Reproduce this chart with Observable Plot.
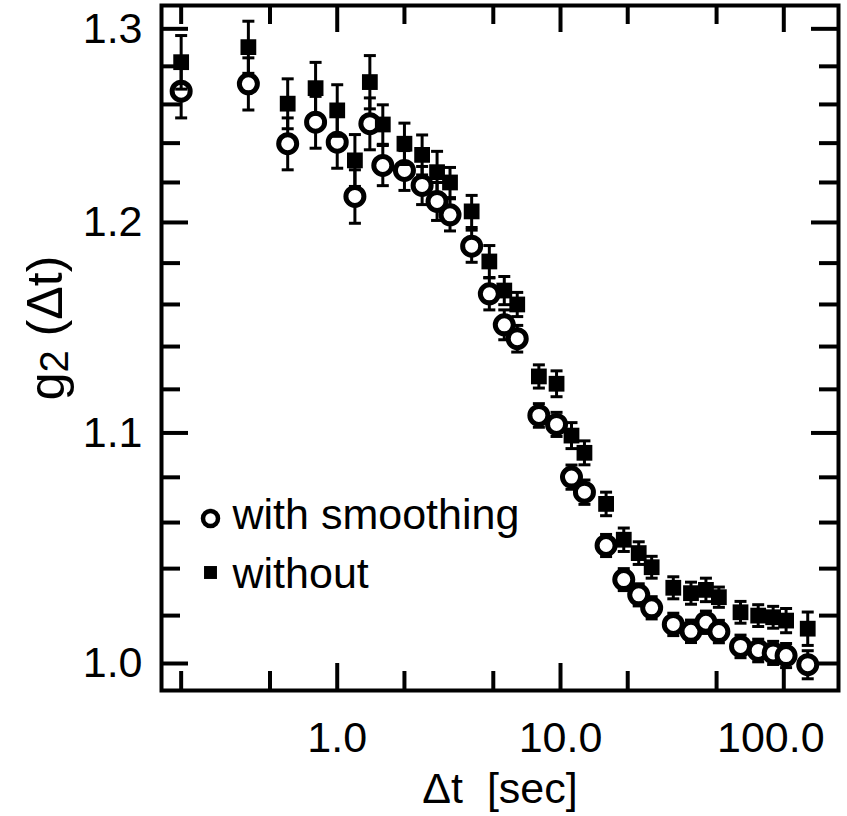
<!DOCTYPE html>
<html>
<head>
<meta charset="utf-8">
<script src="https://cdn.jsdelivr.net/npm/d3@7"></script>
<script src="https://cdn.jsdelivr.net/npm/@observablehq/plot@0.6"></script>
<style>
  body { margin: 0; background: #fff; }
  #chart { width: 847px; height: 816px; }
</style>
</head>
<body>
<div id="chart"></div>
<script>
// Lag times of the multi-tau correlator (seconds)
const lags = [0.2, 0.4, 0.6, 0.8, 1.0, 1.2, 1.4, 1.6, 2.0, 2.4, 2.8, 3.2, 4.0, 4.8, 5.6, 6.4,
  8.0, 9.6, 11.2, 12.8, 16, 19.2, 22.4, 25.6, 32, 38.4, 44.8, 51.2, 64, 76.8, 89.6, 102.4, 128];

// g2(Δt) with smoothing (open circles) and its error
const withSmoothing = [1.2669, 1.2708, 1.2397, 1.2508, 1.2405, 1.2130, 1.2500, 1.2286, 1.2261, 1.2185,
  1.2105, 1.2038, 1.1883, 1.1651, 1.1503, 1.1437, 1.1080, 1.1039, 1.0801, 1.0734, 1.0500, 1.0353,
  1.0288, 1.0233, 1.0163, 1.0134, 1.0172, 1.0133, 1.0071, 1.0054, 1.0044, 1.0033, 0.9995];
const withSmoothingErr = [0.0139, 0.0137, 0.0133, 0.0134, 0.0133, 0.0134, 0.0134, 0.0102, 0.0101, 0.0096,
  0.0095, 0.0080, 0.0079, 0.0077, 0.0071, 0.0063, 0.0054, 0.0055, 0.0054, 0.0054, 0.0048, 0.0047,
  0.0047, 0.0047, 0.0047, 0.0047, 0.0047, 0.0047, 0.0047, 0.0047, 0.0048, 0.0050, 0.0058];

// g2(Δt) without smoothing (filled squares) and its error
const without = [1.2822, 1.2902, 1.2604, 1.2685, 1.2569, 1.2312, 1.2717, 1.2496, 1.2397, 1.2340,
  1.2252, 1.2200, 1.2055, 1.1808, 1.1667, 1.1600, 1.1260, 1.1226, 1.0988, 1.0910, 1.0682, 1.0525,
  1.0467, 1.0406, 1.0318, 1.0295, 1.0309, 1.0278, 1.0214, 1.0200, 1.0193, 1.0179, 1.0145];
const withoutErr = [0.0142, 0.0139, 0.0130, 0.0136, 0.0134, 0.0132, 0.0140, 0.0102, 0.0106, 0.0102,
  0.0106, 0.0076, 0.0080, 0.0078, 0.0068, 0.0058, 0.0054, 0.0060, 0.0059, 0.0054, 0.0052, 0.0051,
  0.0049, 0.0047, 0.0047, 0.0047, 0.0050, 0.0043, 0.0046, 0.0046, 0.0046, 0.0051, 0.0070];

// Axis ticks and labels
const xMajorTicks = [1, 10, 100];
const xTickLabels = ["1.0", "10.0", "100.0"];
const xMinorTicks = [0.2, 0.5, 2, 5, 20, 50];
const yMajorTicks = [1.0, 1.1, 1.2, 1.3];
const yTickLabels = ["1.0", "1.1", "1.2", "1.3"];
const yMinorTicks = [1.02, 1.04, 1.06, 1.08, 1.12, 1.14, 1.16, 1.18, 1.22, 1.24, 1.26, 1.28];

const xTitle = "Δt\u00a0\u00a0[sec]";
const yTitle = "g2 (Δt)";
const legendLabels = ["with smoothing", "without"];

// Horizontal bar used for the error-bar caps
const capSymbol = {
  draw(context, size) {
    const w = Math.sqrt(size / Math.PI);
    context.moveTo(-w, 0);
    context.lineTo(w, 0);
  }
};

const W = 847, H = 816;
const mL = 161, mR = 9, mT = 5, mB = 126;
const innerW = W - mL - mR, innerH = H - mT - mB;
const majorLen = 27, minorLen = 19, tickW = 4;
const fs = 43;
const font = "'Liberation Sans', Arial, Helvetica, sans-serif";

const nLast = xMajorTicks.length - 1;

const chart = Plot.plot({
  width: W,
  height: H,
  marginLeft: mL,
  marginRight: mR,
  marginTop: mT,
  marginBottom: mB,
  style: { fontFamily: font, background: "white", color: "black", overflow: "visible" },
  x: { type: "log", domain: [0.1633, 175.8], axis: null },
  y: { type: "log", domain: [0.9889, 1.3126], axis: null },
  marks: [
    // inward ticks on all four sides
    Plot.tickX(xMajorTicks, { x: d => d, insetTop: innerH - majorLen, strokeWidth: tickW }),
    Plot.tickX(xMinorTicks, { x: d => d, insetTop: innerH - minorLen, strokeWidth: tickW }),
    Plot.tickX(xMajorTicks, { x: d => d, insetBottom: innerH - majorLen, strokeWidth: tickW }),
    Plot.tickX(xMinorTicks, { x: d => d, insetBottom: innerH - minorLen, strokeWidth: tickW }),
    Plot.tickY(yMajorTicks, { y: d => d, insetRight: innerW - majorLen, strokeWidth: tickW }),
    Plot.tickY(yMinorTicks, { y: d => d, insetRight: innerW - minorLen, strokeWidth: tickW }),
    Plot.tickY(yMajorTicks, { y: d => d, insetLeft: innerW - majorLen, strokeWidth: tickW }),
    Plot.tickY(yMinorTicks, { y: d => d, insetLeft: innerW - minorLen, strokeWidth: tickW }),

    // with smoothing: error bars then open circles
    Plot.ruleX(lags, { x: d => d, y1: (d, i) => withSmoothing[i] - withSmoothingErr[i], y2: (d, i) => withSmoothing[i] + withSmoothingErr[i], strokeWidth: 3 }),
    Plot.dot(lags, { x: d => d, y: (d, i) => withSmoothing[i] - withSmoothingErr[i], symbol: capSymbol, r: 6, stroke: "black", strokeWidth: 3 }),
    Plot.dot(lags, { x: d => d, y: (d, i) => withSmoothing[i] + withSmoothingErr[i], symbol: capSymbol, r: 6, stroke: "black", strokeWidth: 3 }),
    Plot.dot(lags, { x: d => d, y: (d, i) => withSmoothing[i], r: 9, fill: "white", stroke: "black", strokeWidth: 5 }),

    // without smoothing: error bars then filled squares
    Plot.ruleX(lags, { x: d => d, y1: (d, i) => without[i] - withoutErr[i], y2: (d, i) => without[i] + withoutErr[i], strokeWidth: 3 }),
    Plot.dot(lags, { x: d => d, y: (d, i) => without[i] - withoutErr[i], symbol: capSymbol, r: 6, stroke: "black", strokeWidth: 3 }),
    Plot.dot(lags, { x: d => d, y: (d, i) => without[i] + withoutErr[i], symbol: capSymbol, r: 6, stroke: "black", strokeWidth: 3 }),
    Plot.dot(lags, { x: d => d, y: (d, i) => without[i], symbol: "square", r: 8.9, fill: "black", stroke: "none" }),

    // tick labels (the last x label sits slightly left of its tick)
    Plot.text(xMajorTicks.slice(0, nLast), { x: d => d, frameAnchor: "bottom", dy: 48, textAnchor: "middle", lineAnchor: "middle", text: (d, i) => xTickLabels[i], fontSize: fs, fill: "black" }),
    Plot.text(xMajorTicks.slice(nLast), { x: d => d, frameAnchor: "bottom", dy: 48, dx: -13, textAnchor: "middle", lineAnchor: "middle", text: () => xTickLabels[nLast], fontSize: fs, fill: "black" }),
    Plot.text(yMajorTicks, { y: d => d, frameAnchor: "left", dx: -19, textAnchor: "end", lineAnchor: "middle", text: (d, i) => yTickLabels[i], fontSize: fs, fill: "black" }),

    // axis titles
    Plot.text([xTitle], { frameAnchor: "bottom", dy: 99, textAnchor: "middle", lineAnchor: "middle", text: d => d, fontSize: fs, fill: "black" }),
    Plot.text([yTitle], { frameAnchor: "left", dx: -114, dy: -20, rotate: -90, textAnchor: "middle", lineAnchor: "middle", text: d => d, fontSize: 50, fill: "black" }),

    // legend
    Plot.dot([legendLabels[0]], { frameAnchor: "top-left", dx: 49, dy: 513, r: 7.5, fill: "white", stroke: "black", strokeWidth: 4.5 }),
    Plot.dot([legendLabels[1]], { frameAnchor: "top-left", dx: 49, dy: 567, symbol: "square", r: 7.3, fill: "black" }),
    Plot.text([legendLabels[0]], { frameAnchor: "top-left", dx: 71, dy: 510, textAnchor: "start", lineAnchor: "middle", text: d => d, fontSize: fs, fill: "black" }),
    Plot.text([legendLabels[1]], { frameAnchor: "top-left", dx: 71, dy: 569, textAnchor: "start", lineAnchor: "middle", text: d => d, fontSize: fs, fill: "black" }),

    Plot.frame({ stroke: "black", strokeWidth: 4 })
  ]
});

// subscript "2" in the y-axis title
d3.select(chart).selectAll("text").each(function () {
  if (this.textContent === yTitle) {
    const t = d3.select(this);
    t.text(null);
    t.append("tspan").text("g");
    t.append("tspan").attr("font-size", "0.8em").attr("dy", "0.12em").text("2");
    t.append("tspan").attr("dy", "-0.12em").text(" (Δt)");
  }
});

document.getElementById("chart").appendChild(chart);
</script>
</body>
</html>
